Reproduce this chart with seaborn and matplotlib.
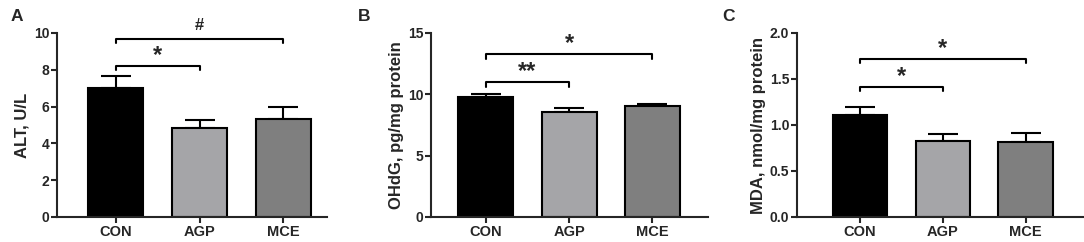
import numpy as np
import pandas as pd
import matplotlib
matplotlib.use('Agg')
import matplotlib.pyplot as plt
import seaborn as sns

groups = ['CON', 'AGP', 'MCE']
colors = ['#000000', '#A5A5A8', '#7F7F7F']

alt_mean = [7.0, 4.82, 5.32]
alt_sem = [0.65, 0.43, 0.68]
ohdg_mean = [9.75, 8.6, 9.05]
ohdg_sem = [0.27, 0.25, 0.15]
mda_mean = [1.11, 0.83, 0.82]
mda_sem = [0.09, 0.07, 0.09]

ylabels = ['ALT, U/L', 'OHdG, pg/mg protein', 'MDA, nmol/mg protein']
ylims = [(0, 10), (0, 15), (0, 2.0)]
yticks = [[0, 2, 4, 6, 8, 10], [0, 5, 10, 15], [0.0, 0.5, 1.0, 1.5, 2.0]]
ytick_fmt = ['{:.0f}', '{:.0f}', '{:.1f}']
panel_letters = ['A', 'B', 'C']

# brackets: (x1, x2, line_y, tick_bottom, text_baseline, label)
brackets = [
    [(0, 1, 8.2, 8.0, 8.42, '*'), (0, 2, 9.67, 9.46, 10.15, '#')],
    [(0, 1, 11.0, 10.6, 11.35, '**'), (0, 2, 13.3, 12.9, 13.6, '*')],
    [(0, 1, 1.41, 1.37, 1.455, '*'), (0, 2, 1.72, 1.67, 1.765, '*')],
]

sns.set_style('ticks')
plt.rcParams['font.family'] = ['Liberation Sans', 'DejaVu Sans']
plt.rcParams['font.weight'] = 'bold'

fig = plt.figure(figsize=(10.84, 2.42), dpi=100)
W, H = 1084, 242
# axes pixel boxes: left, right, xlim
boxes = [(57, 327, (-0.7, 2.52)), (431, 708, (-0.66, 2.67)), (797, 1083, (-0.76, 2.69))]
letter_x = [11, 358, 722]

means = [alt_mean, ohdg_mean, mda_mean]
sems = [alt_sem, ohdg_sem, mda_sem]

for i in range(3):
    left, right, xl = boxes[i]
    ax = fig.add_axes([left / W, 1 - 217 / H, (right - left) / W, (217 - 33) / H])
    df = pd.DataFrame({'group': groups, 'value': means[i]})
    sns.barplot(data=df, x='group', y='value', hue='group', palette=colors,
                edgecolor='black', linewidth=1.5, width=0.66, legend=False,
                errorbar=None, ax=ax, zorder=2)
    ax.errorbar(range(3), means[i], yerr=[np.zeros(3), sems[i]], fmt='none',
                ecolor='black', elinewidth=1.5, capsize=11, capthick=1.5, zorder=1)
    ax.set_xlim(*xl)
    ax.set_ylim(*ylims[i])
    ax.set_yticks(yticks[i])
    ax.set_yticklabels([ytick_fmt[i].format(t) for t in yticks[i]])
    ax.set_xlabel('')
    ax.set_ylabel(ylabels[i], fontsize=12, fontweight='bold', labelpad=3)
    ax.tick_params(axis='x', labelsize=10.5, width=1.5, length=4, pad=2)
    ax.tick_params(axis='y', labelsize=10, width=1.5, length=4, pad=1.5)
    for lab in ax.get_xticklabels() + ax.get_yticklabels():
        lab.set_fontweight('bold')
    for s in ['left', 'bottom']:
        ax.spines[s].set_linewidth(1.5)
    sns.despine(ax=ax)

    for x1, x2, ly, lb, ty, lab in brackets[i]:
        ax.plot([x1, x1, x2, x2], [lb, ly, ly, lb], color='black', lw=1.5,
                clip_on=False)
        fs = 12 if lab == '#' else 17
        ax.text((x1 + x2) / 2, ty, lab, ha='center', va='baseline', fontsize=fs,
                fontweight='bold', clip_on=False)

    fig.text(letter_x[i] / W, 1 - 9 / H, panel_letters[i], fontsize=12.5,
             fontweight='bold', va='top', ha='left')

fig.savefig('out.png', dpi=100)
